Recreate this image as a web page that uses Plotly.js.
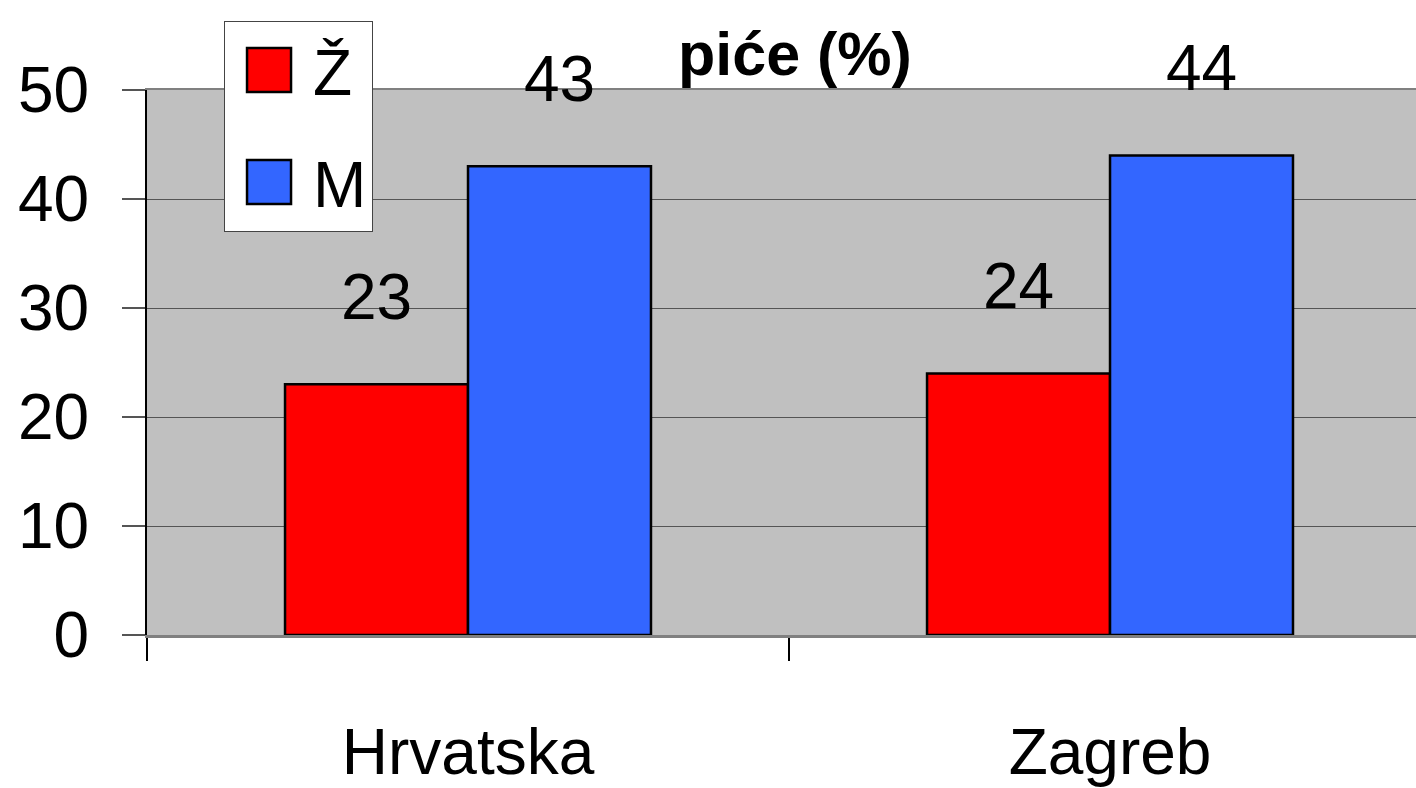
<!DOCTYPE html>
<html>
<head>
<meta charset="utf-8">
<script src="https://cdn.plot.ly/plotly-3.0.1.min.js"></script>
<style>
  html, body { margin: 0; padding: 0; background: #ffffff; overflow: hidden; }
  #chart { width: 1416px; height: 788px; }
</style>
</head>
<body>
<div id="chart"></div>
<script>
// ---- data ----
const categories = ['Hrvatska', 'Zagreb'];
const seriesNames = ['Ž', 'M'];
const valuesZ = [23, 24];   // Ž (women)
const valuesM = [43, 44];   // M (men)
const chartTitle = 'piće (%)';
const yTickValues = [0, 10, 20, 30, 40, 50];

// ---- style ----
const FONT = '"Liberation Sans", Arial, sans-serif';
const BARGAP = 0.43;
const colors = ['#FF0000', '#3366FF'];
const seriesValues = [valuesZ, valuesM];

const traces = seriesValues.map((vals, j) => ({
  type: 'bar',
  name: seriesNames[j],
  x: categories,
  y: vals,
  legendgroup: 'g' + j,
  marker: { color: colors[j], line: { color: '#000000', width: 2.5 } },
  hoverinfo: 'skip'
}));

// value labels above each bar (placed via the axis scales)
const annotations = [];
seriesValues.forEach((vals, j) => {
  const off = (j === 0 ? -1 : 1) * (1 - BARGAP) / 4;
  vals.forEach((v, i) => {
    annotations.push({
      x: i + off, y: v, xref: 'x', yref: 'y',
      text: String(v), showarrow: false,
      yshift: 87, yanchor: 'middle', xanchor: 'center',
      font: { family: FONT, size: 64, color: '#000000' }
    });
  });
});

const layout = {
  width: 1416, height: 788,
  margin: { l: 147, r: 0, t: 90, b: 153, pad: 0 },
  paper_bgcolor: '#ffffff',
  plot_bgcolor: '#C0C0C0',
  barmode: 'group',
  bargap: BARGAP,
  bargroupgap: 0,
  font: { family: FONT, size: 64, color: '#000000' },
  title: {
    text: '<b>' + chartTitle + '</b>',
    font: { family: FONT, size: 61, color: '#000000' },
    xref: 'paper', x: 0.5106, xanchor: 'center',
    yref: 'container', y: 0.932, yanchor: 'middle'
  },
  xaxis: {
    type: 'category',
    range: [-0.5, 1.4766],
    tickson: 'boundaries',
    ticks: 'outside', ticklen: 23, tickwidth: 1.5, tickcolor: '#000000',
    showgrid: false,
    showline: true, linecolor: '#808080', linewidth: 2.5, mirror: true,
    tickfont: { family: FONT, size: 64, color: '#000000' },
    ticklabelstandoff: 60,
    fixedrange: true
  },
  yaxis: {
    range: [0, 50],
    tickvals: yTickValues,
    ticks: 'outside', ticklen: 23, tickwidth: 1.5, tickcolor: '#555555',
    showgrid: true, gridcolor: '#555555', gridwidth: 1,
    zeroline: false,
    showline: true, linecolor: '#000000', linewidth: 2,
    tickfont: { family: FONT, size: 64, color: '#000000' },
    ticklabelstandoff: 20,
    fixedrange: true
  },
  showlegend: true,
  legend: {
    x: 0.0607, xanchor: 'left', xref: 'paper',
    y: 1.127, yanchor: 'top', yref: 'paper',
    bgcolor: '#ffffff', bordercolor: '#444444', borderwidth: 1,
    font: { family: FONT, size: 64, color: '#000000' },
    itemwidth: 78,
    traceorder: 'grouped',
    tracegroupgap: 26
  },
  annotations: annotations
};

function bigSwatches() {
  document.querySelectorAll('#chart .legend .legendpoints path').forEach(function (p) {
    p.setAttribute('d', 'M22,22H-22V-22H22Z');
    p.style.strokeWidth = '2.5px';
  });
}

Plotly.newPlot('chart', traces, layout, { displayModeBar: false, staticPlot: true }).then(function () {
  bigSwatches();
  setTimeout(bigSwatches, 50);
  setTimeout(bigSwatches, 300);
});
</script>
</body>
</html>
